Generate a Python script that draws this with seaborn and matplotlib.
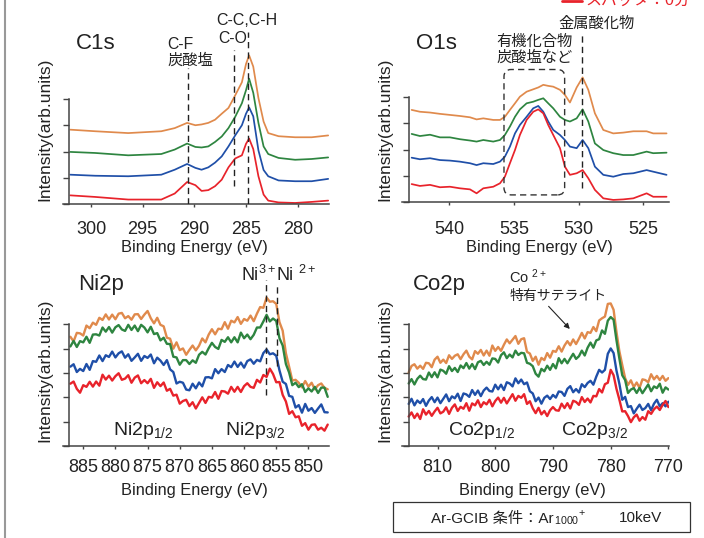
import numpy as np
import pandas as pd
import matplotlib
matplotlib.use("Agg")
import matplotlib.pyplot as plt
import seaborn as sns
from matplotlib.patches import FancyBboxPatch, Rectangle
from matplotlib.lines import Line2D

# ---------------- data ----------------
SAMPLES = ["s3", "s2", "s1", "スパッタ：0分"]          # orange, green, blue, red (drawing order)
COLORS = ["#e08a4c", "#2e8540", "#1f4fa8", "#e8232b"]

# C1s
C1S_E = [302.0, 299.6, 296.4, 293.2, 291.9, 290.7, 289.9, 289.3, 288.65, 288.0, 287.35, 286.7,
         286.05, 285.4, 285.0, 284.7, 284.3, 283.8, 283.3, 282.85, 281.85, 280.25, 278.65, 277.05]
C1S_RED = [0.33, 0.27, 0.17, 0.17, 0.40, 0.84, 0.72, 0.50, 0.53, 0.68, 0.93, 1.40,
           1.74, 1.86, 2.30, 2.50, 2.10, 1.06, 0.36, 0.13, 0.06, 0.04, 0.08, 0.13]
C1S_BLUE = [1.12, 1.08, 1.06, 1.12, 1.31, 1.53, 1.38, 1.31, 1.40, 1.58, 1.82, 2.20,
            2.62, 3.01, 3.45, 3.69, 3.35, 2.05, 1.30, 1.06, 0.90, 0.87, 0.87, 0.96]
C1S_GREEN = [1.99, 1.95, 1.86, 1.91, 2.08, 2.31, 2.18, 2.16, 2.20, 2.37, 2.58, 2.90,
             3.33, 3.85, 4.35, 4.79, 4.25, 3.10, 2.20, 1.91, 1.76, 1.69, 1.72, 1.78]
C1S_ORANGE = [2.84, 2.78, 2.71, 2.78, 2.90, 3.10, 3.01, 3.04, 3.10, 3.22, 3.45, 3.67,
              4.15, 4.65, 5.35, 5.68, 5.25, 4.05, 3.15, 2.71, 2.59, 2.55, 2.55, 2.62]

# O1s
O1S_E = [542.91, 542.27, 541.49, 540.72, 539.95, 539.18, 538.40, 537.89, 537.37, 536.60, 536.08,
         535.70, 535.31, 534.92, 534.54, 534.02, 533.51, 533.12, 532.73, 532.35, 531.96, 531.44,
         531.06, 530.67, 530.15, 529.69, 529.25, 528.74, 528.09, 527.32, 526.55, 525.77, 524.74,
         524.23, 523.20]
O1S_RED = [0.69, 0.62, 0.66, 0.57, 0.59, 0.53, 0.49, 0.34, 0.53, 0.59, 0.72, 0.97, 1.48, 1.98,
           2.55, 3.12, 3.43, 3.52, 3.37, 2.93, 2.55, 2.05, 1.35, 1.04, 1.10, 1.22, 0.91, 0.47,
           0.15, 0.09, 0.11, 0.15, 0.34, 0.21, 0.21]
O1S_BLUE = [1.69, 1.63, 1.67, 1.60, 1.58, 1.54, 1.48, 1.41, 1.48, 1.45, 1.54, 1.73, 2.11, 2.61,
            2.93, 3.24, 3.56, 3.65, 3.43, 3.06, 2.74, 2.55, 2.36, 2.11, 2.05, 2.36, 2.05, 1.35,
            1.04, 0.97, 1.07, 1.10, 1.22, 1.16, 1.04]
O1S_GREEN = [2.59, 2.51, 2.56, 2.46, 2.46, 2.39, 2.34, 2.30, 2.36, 2.30, 2.36, 2.55, 2.87, 3.24,
             3.52, 3.75, 3.81, 3.88, 3.94, 3.75, 3.56, 3.24, 3.12, 3.06, 3.18, 3.52, 3.06, 2.23,
             1.98, 1.86, 1.79, 1.79, 1.92, 1.86, 1.88]
O1S_ORANGE = [3.50, 3.43, 3.40, 3.35, 3.31, 3.27, 3.22, 3.14, 3.18, 3.12, 3.12, 3.24, 3.50, 3.75,
              4.00, 4.19, 4.28, 4.35, 4.45, 4.41, 4.38, 4.26, 4.07, 3.78, 4.35, 4.73, 4.26, 3.37,
              2.74, 2.61, 2.64, 2.69, 2.69, 2.61, 2.61]

# Ni2p
NI_E = [887.0, 886.5, 886.0, 885.5, 885.0, 884.5, 884.0, 883.5, 883.0, 882.5, 882.0, 881.5,
        881.0, 880.5, 880.0, 879.5, 879.0, 878.5, 878.0, 877.5, 877.0, 876.5, 876.0, 875.5,
        875.0, 874.5, 874.0, 873.5, 873.0, 872.5, 872.0, 871.5, 871.0, 870.5, 870.0, 869.5,
        869.0, 868.5, 868.0, 867.5, 867.0, 866.5, 866.0, 865.5, 865.0, 864.5, 864.0, 863.5,
        863.0, 862.5, 862.0, 861.5, 861.0, 860.5, 860.0, 859.5, 859.0, 858.5, 858.0, 857.5,
        857.0, 856.5, 856.0, 855.5, 855.0, 854.5, 854.0, 853.5, 853.0, 852.5, 852.0, 851.5,
        851.0, 850.5, 850.0, 849.5, 849.0, 848.5, 848.0, 847.5, 847.0]
NI_RED = [2.56, 2.65, 2.35, 2.19, 2.50, 2.43, 2.64, 2.44, 2.65, 2.48,
          2.93, 2.73, 2.89, 2.69, 2.87, 2.99, 2.72, 2.77, 2.91, 2.60,
          2.81, 2.90, 2.58, 2.71, 2.58, 2.76, 2.39, 2.62, 2.46, 2.61,
          2.27, 2.35, 2.07, 2.11, 1.74, 1.85, 1.90, 1.64, 1.80, 1.54,
          1.77, 2.00, 1.77, 2.02, 1.99, 2.22, 1.94, 2.26, 2.24, 2.15,
          2.43, 2.23, 2.43, 2.22, 2.46, 2.58, 2.43, 2.39, 2.72, 2.61,
          2.92, 2.84, 3.18, 2.96, 2.62, 2.63, 2.10, 1.83, 1.32, 1.43,
          1.18, 1.22, 0.83, 0.94, 0.67, 0.87, 0.89, 0.67, 0.75, 0.63, 0.88]
NI_BLUE = [3.26, 3.36, 3.04, 3.17, 3.08, 3.37, 3.13, 3.49, 3.46, 3.72,
           3.49, 3.73, 3.66, 3.88, 3.64, 3.81, 3.89, 3.63, 3.77, 3.50,
           3.64, 3.79, 3.50, 3.70, 3.62, 3.76, 3.40, 3.63, 3.51, 3.33,
           3.53, 3.15, 3.04, 2.57, 2.64, 2.60, 2.32, 2.29, 2.56, 2.37,
           2.61, 2.45, 2.82, 2.83, 2.78, 3.16, 2.99, 3.16, 3.04, 3.33,
           3.24, 3.47, 3.25, 3.43, 3.22, 3.49, 3.56, 3.38, 3.54, 3.48,
           3.82, 3.97, 3.77, 3.81, 3.71, 3.11, 2.64, 2.55, 2.06, 2.02,
           1.58, 1.68, 1.37, 1.73, 1.45, 1.56, 1.36, 1.54, 1.71, 1.39, 1.38]
NI_GREEN = [4.09, 4.32, 4.07, 4.31, 4.26, 4.49, 4.24, 4.58, 4.59, 4.54,
            4.87, 4.70, 4.89, 4.66, 4.88, 4.97, 4.79, 4.73, 4.98, 4.77,
            4.95, 4.72, 4.98, 4.87, 4.67, 4.90, 4.60, 4.64, 4.34, 4.45,
            4.20, 4.19, 3.67, 3.64, 3.34, 3.53, 3.53, 3.37, 3.52, 3.42,
            3.75, 3.87, 3.76, 4.02, 4.24, 4.07, 3.99, 4.36, 4.28, 4.47,
            4.26, 4.47, 4.26, 4.66, 4.43, 4.58, 4.39, 4.57, 4.87, 4.87,
            5.12, 5.39, 5.12, 5.24, 5.14, 4.43, 4.13, 3.37, 3.02, 2.50,
            2.60, 2.42, 2.54, 2.22, 2.37, 2.24, 2.43, 2.18, 2.40, 2.40, 2.02]
NI_ORANGE = [4.49, 4.30, 4.65, 4.63, 4.54, 4.95, 4.84, 5.07, 4.98, 5.27,
             5.18, 5.41, 5.20, 5.40, 5.21, 5.44, 5.47, 5.25, 5.34, 5.19,
             5.41, 5.42, 5.22, 5.40, 5.55, 5.25, 5.04, 5.27, 4.98, 4.92,
             4.45, 4.41, 4.00, 4.26, 3.94, 4.01, 3.75, 3.95, 4.13, 3.93,
             4.12, 4.42, 4.26, 4.58, 4.80, 4.59, 4.82, 4.80, 5.09, 4.82,
             5.15, 5.08, 5.30, 5.02, 5.22, 5.15, 5.36, 5.13, 5.44, 5.71,
             5.68, 6.10, 5.93, 5.95, 5.84, 5.09, 4.74, 3.81, 3.26, 2.69,
             2.72, 2.60, 2.41, 2.67, 2.44, 2.60, 2.33, 2.50, 2.57, 2.39, 2.33]

# Co2p
CO_E = [815.0, 814.5, 814.0, 813.5, 813.0, 812.5, 812.0, 811.5, 811.0, 810.5, 810.0, 809.5,
        809.0, 808.5, 808.0, 807.5, 807.0, 806.5, 806.0, 805.5, 805.0, 804.5, 804.0, 803.5,
        803.0, 802.5, 802.0, 801.5, 801.0, 800.5, 800.0, 799.5, 799.0, 798.5, 798.0, 797.5,
        797.0, 796.5, 796.0, 795.5, 795.0, 794.5, 794.0, 793.5, 793.0, 792.5, 792.0, 791.5,
        791.0, 790.5, 790.0, 789.5, 789.0, 788.5, 788.0, 787.5, 787.0, 786.5, 786.0, 785.5,
        785.0, 784.5, 784.0, 783.5, 783.0, 782.5, 782.0, 781.5, 781.0, 780.5, 780.0, 779.5,
        779.0, 778.5, 778.0, 777.5, 777.0, 776.5, 776.0, 775.5, 775.0, 774.5, 774.0, 773.5,
        773.0, 772.5, 772.0, 771.5, 771.0, 770.5, 770.0]
CO_RED = [1.21, 1.38, 1.15, 1.33, 1.11, 1.51, 1.29, 1.44, 1.24, 1.42,
          1.57, 1.34, 1.41, 1.59, 1.32, 1.57, 1.71, 1.44, 1.61, 1.53,
          1.76, 1.45, 1.75, 1.67, 1.88, 1.60, 1.80, 1.71, 1.90, 1.63,
          1.85, 1.99, 1.78, 1.98, 1.75, 1.94, 2.13, 1.86, 2.06, 1.98,
          2.13, 1.73, 1.84, 1.55, 1.35, 1.57, 1.30, 1.44, 1.23, 1.47,
          1.60, 1.47, 1.45, 1.74, 1.56, 1.76, 1.54, 1.86, 1.81, 1.69,
          2.01, 1.81, 1.95, 1.79, 2.06, 2.04, 2.34, 2.20, 2.54, 2.60,
          3.13, 2.91, 2.35, 1.91, 1.42, 1.43, 1.23, 0.98, 1.18, 1.29,
          1.04, 1.19, 1.08, 1.43, 1.32, 1.51, 1.62, 1.48, 1.69, 1.85, 1.60]
CO_BLUE = [1.73, 1.94, 1.67, 1.87, 1.76, 1.93, 1.65, 1.87, 2.01, 1.80,
           1.99, 1.76, 1.94, 2.12, 1.84, 2.04, 1.96, 2.15, 1.85, 2.16,
           2.12, 2.02, 2.30, 2.10, 2.28, 2.05, 2.28, 2.40, 2.26, 2.24,
           2.52, 2.33, 2.52, 2.30, 2.62, 2.57, 2.45, 2.78, 2.58, 2.73,
           2.54, 2.61, 2.25, 2.16, 1.84, 1.99, 1.74, 1.98, 2.07, 1.93,
           2.10, 1.99, 2.24, 2.22, 2.06, 2.35, 2.46, 2.21, 2.34, 2.20,
           2.54, 2.42, 2.59, 2.68, 2.52, 2.85, 3.13, 3.02, 3.13, 3.79,
           4.01, 3.82, 3.10, 2.56, 1.90, 2.02, 1.60, 1.64, 1.34, 1.53,
           1.70, 1.48, 1.56, 1.73, 1.47, 1.74, 1.90, 1.63, 1.76, 1.63, 1.82]
CO_GREEN = [2.57, 2.75, 2.53, 2.76, 2.89, 2.75, 2.73, 3.02, 2.83, 3.03,
            2.82, 3.14, 3.09, 2.97, 3.28, 3.08, 3.21, 3.04, 3.31, 3.20,
            3.41, 3.18, 3.37, 3.16, 3.44, 3.50, 3.33, 3.46, 3.34, 3.60,
            3.58, 3.43, 3.73, 3.85, 3.61, 3.76, 3.64, 3.92, 3.74, 3.83,
            3.81, 3.42, 3.38, 3.28, 2.97, 2.85, 3.17, 3.07, 3.30, 3.13,
            3.37, 3.19, 3.61, 3.40, 3.58, 3.40, 3.60, 3.79, 3.58, 3.69,
            3.92, 3.72, 4.04, 4.25, 4.04, 4.34, 4.39, 4.75, 4.61, 5.15,
            5.30, 5.19, 4.35, 3.60, 2.91, 2.71, 2.18, 2.32, 2.38, 2.18,
            2.39, 2.17, 2.35, 2.53, 2.25, 2.45, 2.38, 2.56, 2.19, 2.41, 2.32]
CO_ORANGE = [3.02, 3.29, 3.36, 3.18, 3.30, 3.17, 3.42, 3.40, 3.24, 3.55,
             3.67, 3.42, 3.55, 3.41, 3.73, 3.58, 3.71, 3.77, 3.57, 3.77,
             3.92, 3.67, 3.56, 3.90, 3.79, 3.95, 3.72, 3.92, 3.71, 4.13,
             3.91, 4.07, 3.91, 4.16, 4.38, 4.22, 4.37, 4.52, 4.20, 4.39,
             4.43, 3.87, 3.80, 3.50, 3.67, 3.34, 3.62, 3.53, 3.82, 3.63,
             3.91, 3.87, 4.10, 3.88, 4.13, 4.31, 4.14, 4.38, 4.19, 4.41,
             4.65, 4.42, 4.68, 4.65, 4.89, 4.72, 5.16, 5.25, 5.32, 5.84,
             5.86, 5.60, 4.69, 3.90, 3.33, 2.79, 2.51, 2.70, 2.42, 2.61,
             2.39, 2.74, 2.71, 2.62, 2.95, 2.74, 2.88, 2.71, 2.88, 2.68, 2.79]

C1S_TICKS = [300, 295, 290, 285, 280]
O1S_TICKS = [540, 535, 530, 525]
NI_TICKS = [885, 880, 875, 870, 865, 860, 855, 850]
CO_TICKS = [810, 800, 790, 780, 770]

# ---------------- style ----------------
sns.set_theme(style="white")
plt.rcParams["font.family"] = ["Liberation Sans", "Noto Sans CJK JP", "DejaVu Sans"]
plt.rcParams["mathtext.fontset"] = "custom"
plt.rcParams["mathtext.rm"] = "Liberation Sans"
plt.rcParams["mathtext.it"] = "Liberation Sans:italic"
plt.rcParams["mathtext.bf"] = "Liberation Sans:bold"

W, H = 704, 538
TXT = "#222222"
AXC = "#444444"
fig = plt.figure(figsize=(W / 100, H / 100), dpi=100)
fig.patch.set_facecolor("white")


def fx(x):
    return x / W


def fy(y):
    return 1 - y / H


def add_axes(l, r, b, t):
    return fig.add_axes([fx(l), fy(b), (r - l) / W, (b - t) / H])


def panel(ax, E, ys, xlim, ylim, spine_x, nticks, xticks, pad, lw):
    frames = []
    for name, y in zip(SAMPLES, ys):
        frames.append(pd.DataFrame({"E": E, "I": y, "sample": name}))
    df = pd.concat(frames, ignore_index=True)
    sns.lineplot(data=df, x="E", y="I", hue="sample", hue_order=SAMPLES,
                 palette=COLORS, estimator=None, sort=False, lw=lw,
                 legend=False, ax=ax)
    ax.set_xlim(*xlim)
    ax.set_ylim(*ylim)
    ax.set_xlabel("")
    ax.set_ylabel("")
    ax.patch.set_alpha(0)
    for s in ["top", "right"]:
        ax.spines[s].set_visible(False)
    ax.spines["left"].set_position(("data", spine_x))
    ax.spines["left"].set_bounds(0, nticks)
    for s in ["left", "bottom"]:
        ax.spines[s].set_color(AXC)
        ax.spines[s].set_linewidth(1.1)
    ax.set_yticks(list(range(nticks + 1)))
    ax.set_xticks(xticks)
    ax.set_xticklabels([str(t) for t in xticks])
    ax.tick_params(axis="y", direction="out", length=4.5, width=1.0, color=AXC,
                   labelleft=False, left=True)
    ax.tick_params(axis="x", direction="out", length=2.5, width=1.0, color=AXC,
                   labelsize=13, labelcolor=TXT, pad=pad, bottom=True)


def dash(ax, x, y0, y1):
    ax.plot([x, x], [y0, y1], color="#222222", lw=1.0, ls=(0, (4.5, 3)), zorder=5)


def T(x, y, s, size, color=TXT, **kw):
    return fig.text(fx(x), fy(y), s, fontsize=size, color=color, ha="left",
                    va="baseline", **kw)


# C1s
ax1 = add_axes(62.7, 329, 204, 30)
panel(ax1, C1S_E, [C1S_ORANGE, C1S_GREEN, C1S_BLUE, C1S_RED],
      (302.74, 276.97), (0, 174 / 26.17), 302.1, 4, C1S_TICKS, 10.0, 1.25)
dash(ax1, 290.65, 0, 5.20)
dash(ax1, 286.2, 0.68, 5.88)
dash(ax1, 284.77, 0, 6.57)

# O1s
ax2 = add_axes(401.7, 669, 202.3, 30)
panel(ax2, O1S_E, [O1S_ORANGE, O1S_GREEN, O1S_BLUE, O1S_RED],
      (543.68, 523.01), (0, 172.3 / 26.4), 543.14, 4, O1S_TICKS, 11.0, 1.25)
dash(ax2, 529.71, 0.53, 6.40)
box = FancyBboxPatch((531.08, 0.28), 535.77 - 531.08, 5.03 - 0.28,
                     boxstyle="round,pad=0,rounding_size=0.55",
                     mutation_aspect=12.94 / 26.4, fill=False,
                     edgecolor="#333333", lw=1.0, ls=(0, (4.5, 3)), zorder=5)
ax2.add_patch(box)

# Ni2p
ax3 = add_axes(63.3, 329, 446, 270)
panel(ax3, NI_E, [NI_ORANGE, NI_GREEN, NI_BLUE, NI_RED],
      (888.1, 846.8), (0, 176 / 24.33), 887.17, 5, NI_TICKS, 7.0, 1.7)
dash(ax3, 856.59, 2.10, 6.82)
dash(ax3, 854.88, 3.30, 6.69)

# Co2p
ax4 = add_axes(402.3, 669, 446, 270)
panel(ax4, CO_E, [CO_ORANGE, CO_GREEN, CO_BLUE, CO_RED],
      (816.1, 769.9), (0, 176 / 24.33), 814.94, 5, CO_TICKS, 7.0, 1.7)

# axis labels
for cx, cy in [(194, 248), (539, 248), (194, 490), (532.5, 490)]:
    fig.text(fx(cx), fy(cy), "Binding Energy (eV)", fontsize=11.8, color=TXT,
             ha="center", va="center")
for cx, cy in [(45, 129.5), (385, 129.5), (45, 370.5), (385, 370.5)]:
    fig.text(fx(cx), fy(cy), "Intensity(arb.units)", fontsize=12.5, color=TXT,
             ha="center", va="center", rotation=90)

# panel titles
T(76, 49.3, "C1s", 16)
T(416, 49.3, "O1s", 16)
T(78, 290, "Ni2p", 16)
T(413, 290, "Co2p", 16)

# annotations
T(167, 49.3, "C-F", 11.3)
T(167, 65, "炭酸塩", 11)
T(216.7, 25, "C-C,C-H", 11.5)
T(218.3, 43.3, "C-O", 11.3)
T(558.3, 28, "金属酸化物", 11)
T(496, 46, "有機化合物", 11)
T(496, 62, "炭酸塩など", 11)
T(241, 281, "Ni$^{3+}$", 13)
T(276, 281, "Ni $^{2+}$", 13)
T(112.7, 435, "Ni2p$_{1/2}$", 14)
T(225, 435, "Ni2p$_{3/2}$", 14)
T(509.3, 283.3, "Co $^{2+}$", 10.5)
T(509.3, 300, "特有サテライト", 10)
T(448.3, 435, "Co2p$_{1/2}$", 14)
T(560.7, 435, "Co2p$_{3/2}$", 14)
fig.add_artist(matplotlib.patches.FancyArrowPatch(
    (fx(546.7), fy(304.3)), (fx(571.7), fy(331)), transform=fig.transFigure,
    arrowstyle="-|>", mutation_scale=8, lw=0.8, color="#222222"))

# condition box (plain text and math parts drawn separately so CJK falls back properly)
fig.add_artist(Rectangle((fx(393), fy(532)), 297 / W, 30 / H, transform=fig.transFigure,
                         fill=False, edgecolor="#333333", lw=0.9))
renderer = fig.canvas.get_renderer()
t1 = T(430.7, 522.5, "Ar-GCIB 条件：Ar", 11)
x_end = t1.get_window_extent(renderer).x1
T(x_end + 0.5, 522.5, "$_{1000}$$^{+}$", 11)
T(619.3, 522.5, "10keV", 11)

# cut-off legend at top right and left frame line
fig.add_artist(Line2D([fx(562), fx(582)], [fy(1), fy(1)], transform=fig.transFigure,
                      color="#e8232b", lw=2))
T(585, 4.5, "スパッタ：0分", 11.5, color="#e8232b")
fig.add_artist(Line2D([fx(5), fx(5)], [0, 1], transform=fig.transFigure,
                      color="#999999", lw=1.5))

fig.savefig("out.png", dpi=100)
